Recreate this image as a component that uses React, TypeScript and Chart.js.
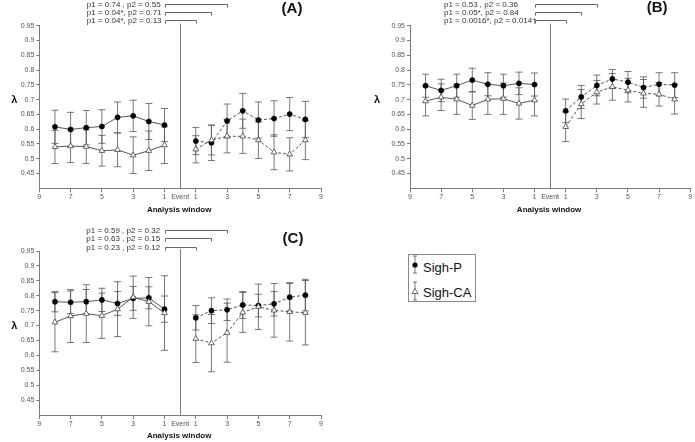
import React, { useEffect, useRef } from "react";
import { Chart, registerables } from "chart.js";
Chart.register(...registerables);

// ---------- shared axis data ----------
const preWindows = [8, 7, 6, 5, 4, 3, 2, 1];
const postWindows = [1, 2, 3, 4, 5, 6, 7, 8];
const xTickValues = [-9, -7, -5, -3, -1, 0, 1, 3, 5, 7, 9];
const xTickLabels = ["9", "7", "5", "3", "1", "Event", "1", "3", "5", "7", "9"];
const yTickValues = [0.45, 0.5, 0.55, 0.6, 0.65, 0.7, 0.75, 0.8, 0.85, 0.9, 0.95];
const bracketEnds = [3, 2, 1];
const seriesNames = ["Sigh-P", "Sigh-CA"];

// ---------- panel A ----------
const aSighPPre = [0.608, 0.599, 0.605, 0.609, 0.64, 0.645, 0.626, 0.614];
const aSighPPreErr = [0.056, 0.058, 0.058, 0.057, 0.052, 0.053, 0.061, 0.056];
const aSighPPost = [0.56, 0.554, 0.628, 0.662, 0.631, 0.636, 0.651, 0.633];
const aSighPPostErr = [0.046, 0.06, 0.057, 0.059, 0.061, 0.06, 0.056, 0.061];
const aSighCAPre = [0.54, 0.543, 0.541, 0.527, 0.53, 0.512, 0.527, 0.546];
const aSighCAPreErr = [0.056, 0.056, 0.057, 0.052, 0.057, 0.062, 0.067, 0.062];
const aSighCAPost = [0.532, 0.563, 0.576, 0.576, 0.563, 0.522, 0.515, 0.563];
const aSighCAPostErr = [0.046, 0.05, 0.056, 0.058, 0.062, 0.059, 0.056, 0.066];
const aPTexts = ["p1 = 0.74 , p2 = 0.55", "p1 = 0.04*, p2 = 0.71", "p1 = 0.04*, p2 = 0.13"];

// ---------- panel B ----------
const bSighPPre = [0.747, 0.731, 0.747, 0.766, 0.752, 0.747, 0.755, 0.751];
const bSighPPreErr = [0.039, 0.038, 0.039, 0.04, 0.039, 0.039, 0.038, 0.039];
const bSighPPost = [0.662, 0.709, 0.748, 0.77, 0.759, 0.741, 0.752, 0.749];
const bSighPPostErr = [0.04, 0.039, 0.035, 0.032, 0.036, 0.036, 0.039, 0.042];
const bSighCAPre = [0.695, 0.708, 0.701, 0.68, 0.701, 0.703, 0.687, 0.698];
const bSighCAPreErr = [0.05, 0.045, 0.051, 0.047, 0.051, 0.053, 0.053, 0.053];
const bSighCAPost = [0.608, 0.685, 0.725, 0.743, 0.732, 0.721, 0.718, 0.701];
const bSighCAPostErr = [0.05, 0.049, 0.04, 0.045, 0.04, 0.047, 0.04, 0.05];
const bPTexts = ["p1 = 0.53 , p2 = 0.36", "p1 = 0.05*, p2 = 0.84", "p1 = 0.0016*, p2 = 0.014†"];

// ---------- panel C ----------
const cSighPPre = [0.78, 0.778, 0.78, 0.786, 0.774, 0.791, 0.793, 0.755];
const cSighPPreErr = [0.034, 0.038, 0.041, 0.039, 0.04, 0.04, 0.037, 0.044];
const cSighPPost = [0.726, 0.75, 0.753, 0.769, 0.767, 0.773, 0.795, 0.802];
const cSighPPostErr = [0.041, 0.043, 0.036, 0.045, 0.038, 0.041, 0.046, 0.053];
const cSighCAPre = [0.711, 0.732, 0.74, 0.733, 0.755, 0.795, 0.78, 0.742];
const cSighCAPreErr = [0.099, 0.089, 0.097, 0.076, 0.092, 0.071, 0.081, 0.125];
const cSighCAPost = [0.656, 0.641, 0.676, 0.744, 0.763, 0.751, 0.746, 0.743];
const cSighCAPostErr = [0.08, 0.096, 0.099, 0.067, 0.076, 0.09, 0.098, 0.108];
const cPTexts = ["p1 = 0.59 , p2 = 0.32", "p1 = 0.63 , p2 = 0.15", "p1 = 0.23 , p2 = 0.12"];

const FONT = "'Liberation Sans', Arial, Helvetica, sans-serif";
const AXIS = "#7a7a7a";
const LINE = "#444";
const BAR = "#555";

type PanelCfg = {
  label: string;
  left: number; top: number; width: number; height: number;
  yAxisWidth: number; xAxisHeight: number; padTop: number; padRight: number;
  pTexts: string[]; textDx: number;
  lambdaDx: number; titleDx: number; titleDy: number; bracketDy: number[];
  pPre: number[]; pPreErr: number[]; pPost: number[]; pPostErr: number[];
  caPre: number[]; caPreErr: number[]; caPost: number[]; caPostErr: number[];
};

const panels: PanelCfg[] = [
  {
    label: "(A)", left: 0, top: 0, width: 345, height: 215,
    yAxisWidth: 39.3, xAxisHeight: 26.7, padTop: 25.7, padRight: 24,
    pTexts: aPTexts, textDx: 47.5, lambdaDx: -25, titleDx: -29, titleDy: -17,
    bracketDy: [-21.5, -13.3, -5.5],
    pPre: aSighPPre, pPreErr: aSighPPreErr, pPost: aSighPPost, pPostErr: aSighPPostErr,
    caPre: aSighCAPre, caPreErr: aSighCAPreErr, caPost: aSighCAPost, caPostErr: aSighCAPostErr,
  },
  {
    label: "(B)", left: 345, top: 0, width: 350, height: 215,
    yAxisWidth: 65, xAxisHeight: 26.7, padTop: 25.7, padRight: 4,
    pTexts: bPTexts, textDx: 34, lambdaDx: -33, titleDx: -33, titleDy: -17.5,
    bracketDy: [-21.5, -13.3, -5.5],
    pPre: bSighPPre, pPreErr: bSighPPreErr, pPost: bSighPPost, pPostErr: bSighPPostErr,
    caPre: bSighCAPre, caPreErr: bSighCAPreErr, caPost: bSighCAPost, caPostErr: bSighCAPostErr,
  },
  {
    label: "(C)", left: 0, top: 215, width: 345, height: 227,
    yAxisWidth: 39.3, xAxisHeight: 27, padTop: 36, padRight: 24,
    pTexts: cPTexts, textDx: 47, lambdaDx: -25, titleDx: -28, titleDy: -12,
    bracketDy: [-21, -13, -4.5],
    pPre: cSighPPre, pPreErr: cSighPPreErr, pPost: cSighPPost, pPostErr: cSighPPostErr,
    caPre: cSighCAPre, caPreErr: cSighCAPreErr, caPost: cSighCAPost, caPostErr: cSighCAPostErr,
  },
];

function toPoints(windows: number[], vals: number[], errs: number[], sign: number) {
  return windows.map((w, i) => ({ x: sign * w, y: vals[i], e: errs[i] }));
}

function Panel({ cfg }: { cfg: PanelCfg }) {
  const ref = useRef<HTMLCanvasElement>(null);
  useEffect(() => {
    const canvas = ref.current;
    if (!canvas) return;

    const pStyle = {
      borderColor: LINE, borderWidth: 0.9, pointStyle: "circle",
      pointRadius: 2.6, pointBackgroundColor: "#000", pointBorderColor: "#000",
      pointBorderWidth: 0.5, tension: 0, fill: false,
    };
    const caStyle = {
      borderColor: LINE, borderWidth: 0.9, pointStyle: "triangle",
      pointRadius: 3.3, pointBackgroundColor: "#fff", pointBorderColor: "#444",
      pointBorderWidth: 0.8, tension: 0, fill: false,
    };

    const datasets: any[] = [
      { label: seriesNames[1], data: toPoints(preWindows, cfg.caPre, cfg.caPreErr, -1), ...caStyle },
      { label: seriesNames[1], data: toPoints(postWindows, cfg.caPost, cfg.caPostErr, 1), ...caStyle, borderDash: [3, 2] },
      { label: seriesNames[0], data: toPoints(preWindows, cfg.pPre, cfg.pPreErr, -1), ...pStyle },
      { label: seriesNames[0], data: toPoints(postWindows, cfg.pPost, cfg.pPostErr, 1), ...pStyle, borderDash: [3, 2] },
    ];

    const panelPlugin = {
      id: "panelDecor",
      beforeDatasetsDraw(chart: any) {
        const { ctx, scales } = chart;
        const xs = scales.x, ys = scales.y;
        ctx.save();
        ctx.strokeStyle = BAR;
        ctx.lineWidth = 0.8;
        chart.data.datasets.forEach((ds: any) => {
          ds.data.forEach((p: any) => {
            const px = xs.getPixelForValue(p.x);
            const yt = ys.getPixelForValue(p.y + p.e);
            const yb = ys.getPixelForValue(p.y - p.e);
            ctx.beginPath();
            ctx.moveTo(px, yt); ctx.lineTo(px, yb);
            ctx.moveTo(px - 3.5, yt); ctx.lineTo(px + 3.5, yt);
            ctx.moveTo(px - 3.5, yb); ctx.lineTo(px + 3.5, yb);
            ctx.stroke();
          });
        });
        ctx.restore();
      },
      afterDraw(chart: any) {
        const { ctx, chartArea, scales } = chart;
        const { left, right, top, bottom } = chartArea;
        const xs = scales.x, ys = scales.y;
        ctx.save();
        // event divider
        const ex = Math.round(xs.getPixelForValue(0)) + 0.5;
        ctx.strokeStyle = AXIS;
        ctx.lineWidth = 1;
        ctx.beginPath();
        ctx.moveTo(ex, top - 2);
        ctx.lineTo(ex, bottom);
        ctx.stroke();
        // brackets + p-values
        const x0 = Math.round(xs.getPixelForValue(-1)) + 0.5;
        ctx.font = `8px ${FONT}`;
        ctx.textBaseline = "middle";
        ctx.textAlign = "left";
        cfg.pTexts.forEach((t, i) => {
          const yy = Math.round(top + cfg.bracketDy[i]) + 0.5;
          const x1 = Math.round(xs.getPixelForValue(bracketEnds[i])) + 0.5;
          ctx.strokeStyle = "#666";
          ctx.beginPath();
          ctx.moveTo(x0, yy + 3); ctx.lineTo(x0, yy); ctx.lineTo(x1, yy); ctx.lineTo(x1, yy + 3);
          ctx.stroke();
          ctx.fillStyle = "#333";
          ctx.fillText(t, left + cfg.textDx, yy);
        });
        // lambda
        ctx.fillStyle = "#111";
        ctx.font = `bold 11px ${FONT}`;
        ctx.textAlign = "center";
        ctx.fillText("λ", left + cfg.lambdaDx, ys.getPixelForValue(0.7));
        // panel title
        ctx.font = `bold 15px ${FONT}`;
        ctx.fillText(cfg.label, right + cfg.titleDx, top + cfg.titleDy);
        // axis title
        ctx.font = `bold 8px ${FONT}`;
        ctx.fillText("Analysis window", xs.getPixelForValue(0) - 1, bottom + 21);
        ctx.restore();
      },
    };

    const chart = new Chart(canvas, {
      type: "line",
      data: { datasets },
      options: {
        responsive: false,
        animation: false,
        devicePixelRatio: 1,
        layout: { padding: { top: cfg.padTop, right: cfg.padRight, left: 0, bottom: 0 } },
        plugins: { legend: { display: false }, tooltip: { enabled: false }, title: { display: false } },
        scales: {
          x: {
            type: "linear", min: -9, max: 9,
            afterBuildTicks: (s: any) => { s.ticks = xTickValues.map((v) => ({ value: v })); },
            afterFit: (s: any) => { s.height = cfg.xAxisHeight; },
            ticks: {
              autoSkip: false, maxRotation: 0, minRotation: 0, padding: 1,
              font: { family: FONT, size: 7 }, color: "#555",
              callback: (_v: any, i: number) => xTickLabels[i],
            },
            grid: {
              drawOnChartArea: false, drawTicks: true, tickLength: 4, tickWidth: 1,
              tickColor: (c: any) => (c.tick && c.tick.value === 0 ? "rgba(0,0,0,0)" : AXIS),
            },
            border: { display: true, color: AXIS, width: 1 },
          },
          y: {
            type: "linear", min: 0.4, max: 0.95,
            afterBuildTicks: (s: any) => { s.ticks = yTickValues.map((v) => ({ value: v })); },
            afterFit: (s: any) => { s.width = cfg.yAxisWidth; },
            ticks: {
              padding: 2, font: { family: FONT, size: 7 }, color: "#555",
              callback: (v: any) => String(Number(Number(v).toFixed(2))),
            },
            grid: { drawOnChartArea: false, drawTicks: true, tickLength: 3, tickColor: AXIS, tickWidth: 1 },
            border: { display: true, color: AXIS, width: 1 },
          },
        },
      } as any,
      plugins: [panelPlugin],
    });
    return () => chart.destroy();
  }, [cfg]);

  return (
    <canvas
      ref={ref}
      width={cfg.width}
      height={cfg.height}
      style={{ position: "absolute", left: cfg.left, top: cfg.top, width: cfg.width, height: cfg.height }}
    />
  );
}

function Legend() {
  return (
    <div
      style={{
        position: "absolute", left: 408, top: 254, width: 68, height: 48,
        border: "1px solid #8a8a8a", boxSizing: "border-box", fontFamily: FONT,
        fontSize: 13, color: "#111", background: "#fff",
      }}
    >
      <svg width={14} height={46} style={{ position: "absolute", left: 0, top: 0 }}>
        <g stroke="#555" strokeWidth={0.8} fill="none">
          <line x1={6} y1={1} x2={6} y2={18} />
          <line x1={4} y1={1} x2={8} y2={1} />
          <line x1={4} y1={18} x2={8} y2={18} />
          <line x1={6} y1={27} x2={6} y2={45} />
          <line x1={4} y1={27} x2={8} y2={27} />
          <line x1={4} y1={45} x2={8} y2={45} />
        </g>
        <circle cx={6} cy={10} r={2.6} fill="#000" />
        <polygon points="6,33.5 9,38.5 3,38.5" fill="#fff" stroke="#444" strokeWidth={0.8} />
      </svg>
      <span style={{ position: "absolute", left: 14, top: 4.5, lineHeight: "15px", whiteSpace: "nowrap" }}>
        {seriesNames[0]}
      </span>
      <span style={{ position: "absolute", left: 14, top: 29.5, lineHeight: "15px", whiteSpace: "nowrap" }}>
        {seriesNames[1]}
      </span>
    </div>
  );
}

export default function App() {
  return (
    <div style={{ position: "absolute", left: 0, top: 0, width: 695, height: 442, background: "#fff", overflow: "hidden" }}>
      {panels.map((p) => (
        <Panel key={p.label} cfg={p} />
      ))}
      <Legend />
    </div>
  );
}
